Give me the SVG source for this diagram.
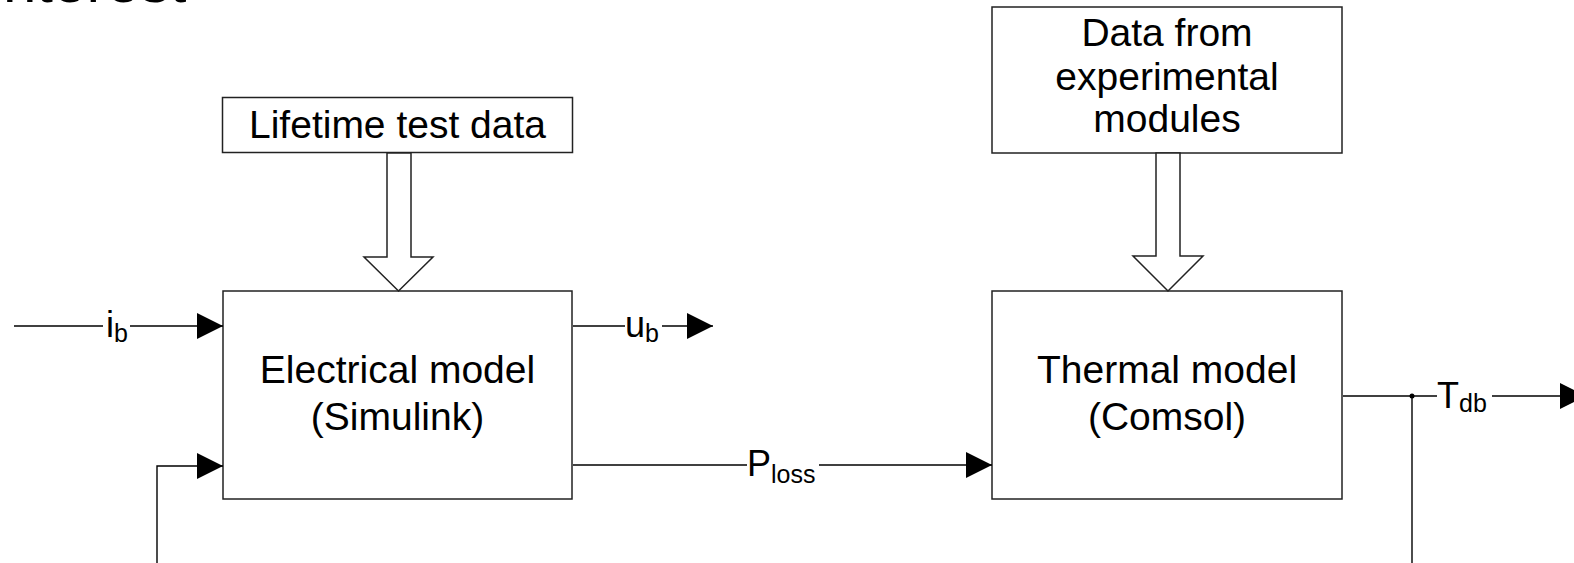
<svg xmlns="http://www.w3.org/2000/svg" width="1574" height="563" viewBox="0 0 1574 563">
  <style>
    text { font-family: "Liberation Sans", Arial, sans-serif; fill: #000; }
    .box { fill: #fff; stroke: #222; stroke-width: 1.5; }
    .btxt { font-size: 39px; text-anchor: middle; }
    .lbl { font-size: 36px; }
    .sub { font-size: 25px; }
    .wire { fill: none; stroke: #000; stroke-width: 1.4; }
    .hollow { fill: #fff; stroke: #222; stroke-width: 1.5; stroke-linejoin: miter; }
  </style>
  <defs>
    <marker id="head" viewBox="0 0 26 26" refX="26" refY="13" markerWidth="26" markerHeight="26" markerUnits="userSpaceOnUse" orient="auto">
      <path d="M0,0 L26,13 L0,26 z" fill="#000"/>
    </marker>
  </defs>

  <rect width="1574" height="563" fill="#fff"/>

  <!-- heading text running off the top edge -->
  <text x="3" y="2" font-size="60">nterest</text>

  <g id="lifetime-data">
    <rect class="box" x="222.5" y="97.5" width="350" height="55"/>
    <text class="btxt" x="397.5" y="138">Lifetime test data</text>
  </g>

  <g id="electrical-model">
    <rect class="box" x="223" y="291" width="349" height="208"/>
    <text class="btxt" x="397.5" y="383">Electrical model</text>
    <text class="btxt" x="397.5" y="430">(Simulink)</text>
  </g>

  <g id="experimental-data">
    <rect class="box" x="992" y="7" width="350" height="146"/>
    <text class="btxt" x="1167" y="46">Data from</text>
    <text class="btxt" x="1167" y="90">experimental</text>
    <text class="btxt" x="1167" y="132">modules</text>
  </g>

  <g id="thermal-model">
    <rect class="box" x="992" y="291" width="350" height="208"/>
    <text class="btxt" x="1167" y="383">Thermal model</text>
    <text class="btxt" x="1167" y="430">(Comsol)</text>
  </g>

  <g id="connectors">
    <!-- data feeds (hollow arrows) -->
    <polygon class="hollow" points="387,153 387,257 364,257 398.5,291 433,257 411,257 411,153"/>
    <polygon class="hollow" points="1156,153 1156,256 1133,256 1168,291 1203,256 1180,256 1180,153"/>

    <!-- i_b input -->
    <path class="wire" d="M14,326 H103"/>
    <path class="wire" d="M130,326 H223" marker-end="url(#head)"/>
    <text class="lbl" x="106" y="337">i<tspan class="sub" dy="5">b</tspan></text>

    <!-- temperature feedback into electrical model -->
    <path class="wire" d="M157,563 V466 H223" marker-end="url(#head)"/>

    <!-- u_b output -->
    <path class="wire" d="M573,326 H625"/>
    <path class="wire" d="M662,326 H713" marker-end="url(#head)"/>
    <text class="lbl" x="625" y="337">u<tspan class="sub" dy="5">b</tspan></text>

    <!-- P_loss -->
    <path class="wire" d="M573,465 H747"/>
    <path class="wire" d="M819,465 H992" marker-end="url(#head)"/>
    <text class="lbl" x="747" y="476">P<tspan class="sub" dy="7">loss</tspan></text>

    <!-- T_db output and branch -->
    <path class="wire" d="M1343,396 H1437"/>
    <path class="wire" d="M1492,396 H1586" marker-end="url(#head)"/>
    <path class="wire" d="M1412,396 V563"/>
    <circle cx="1412" cy="396" r="2.5" fill="#000"/>
    <text class="lbl" x="1437" y="408">T<tspan class="sub" dy="4">db</tspan></text>
  </g>
</svg>
